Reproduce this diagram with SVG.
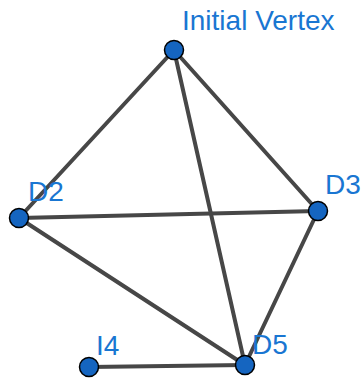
<svg xmlns="http://www.w3.org/2000/svg" width="361" height="378" viewBox="0 0 361 378">
<style>
.e{stroke:#474747;stroke-width:4;stroke-linecap:round;fill:none}
.n{fill:#1565c0;stroke:#000;stroke-width:1.5}
.t{font-family:"Liberation Sans",Arial,sans-serif;font-size:28px;fill:#1976d2}
</style>
<rect width="361" height="378" fill="#fff"/>
<g id="edges">
<line class="e" x1="174" y1="50" x2="19" y2="218"/>
<line class="e" x1="174" y1="50" x2="318" y2="211"/>
<line class="e" x1="174" y1="50" x2="245" y2="365"/>
<line class="e" x1="19" y1="218" x2="318" y2="211"/>
<line class="e" x1="19" y1="218" x2="245" y2="365"/>
<line class="e" x1="318" y1="211" x2="245" y2="365"/>
<line class="e" x1="89" y1="367" x2="245" y2="365"/>
</g>
<g id="initial-vertex"><circle class="n" cx="174" cy="50" r="9.5"/><text class="t" x="182" y="30">Initial Vertex</text></g>
<g id="d2"><circle class="n" cx="19" cy="218" r="9.5"/><text class="t" x="28" y="201">D2</text></g>
<g id="d3"><circle class="n" cx="318" cy="211" r="9.5"/><text class="t" x="325" y="194">D3</text></g>
<g id="d5"><circle class="n" cx="245" cy="365" r="9.5"/><text class="t" x="252" y="354">D5</text></g>
<g id="i4"><circle class="n" cx="89" cy="367" r="9.5"/><text class="t" x="96" y="355">I4</text></g>
</svg>
